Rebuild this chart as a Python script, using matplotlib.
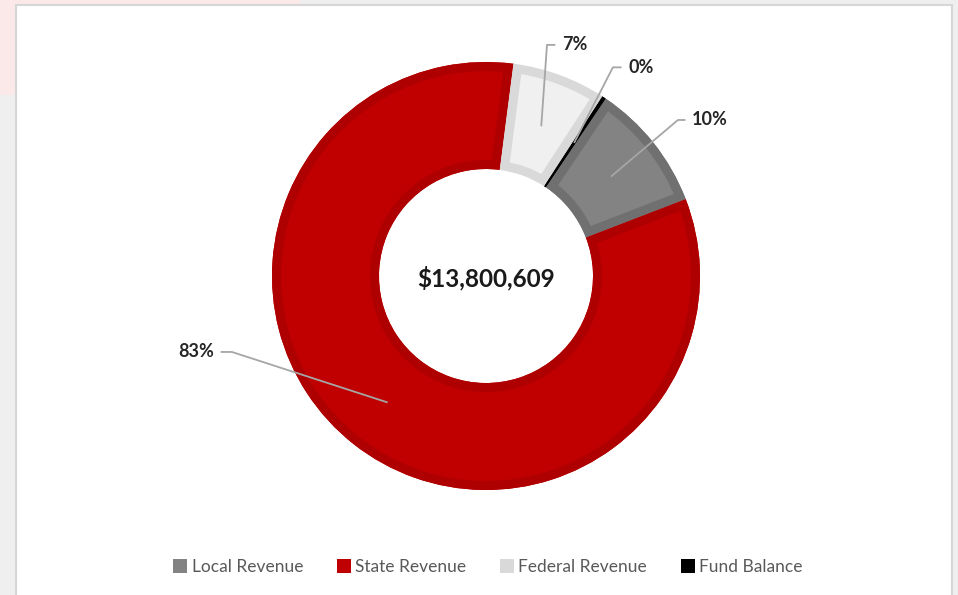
import matplotlib.pyplot as plt
from matplotlib.patches import Patch, Rectangle, Wedge
import numpy as np

sources = ['Local Revenue', 'State Revenue', 'Federal Revenue', 'Fund Balance']
amounts = [1340000, 11440000, 980000, 40609]

fills = ['#838383', '#c00000', '#f0f0f0', '#000000']
edges = ['#707070', '#ae0000', '#d9d9d9', '#000000']

# where each percentage label sits (axes data units) and the elbow of its leader
label_xy = [(0.963, 0.729), (-1.271, -0.355), (0.355, 1.080), (0.664, 0.975)]
elbow_xy = [(0.897, 0.729), (-1.187, -0.355), (0.285, 1.080), (0.593, 0.975)]

W, H = 958, 595
fig = plt.figure(figsize=(W / 100, H / 100), dpi=100, facecolor='#efefef')

# slide backdrop and chart frame
fig.add_artist(Rectangle((0, 1 - 95 / H), 300 / W, 95 / H, transform=fig.transFigure,
                         facecolor='#fbe8e8', edgecolor='none', zorder=-3))
fig.add_artist(Rectangle((16 / W, -0.02), (952 - 16) / W, 1.02 - 5 / H, transform=fig.transFigure,
                         facecolor='white', edgecolor='#d6d6d6', lw=1.5, zorder=-2))

ax = fig.add_axes([272 / W, 105 / H, 428 / W, 428 / H])
wedges, _ = ax.pie(amounts, colors=fills, startangle=56, counterclock=False, radius=1,
                   wedgeprops=dict(width=0.5, linewidth=0))
# inner border band on each slice
for w, ec in zip(wedges, edges):
    band = ax.add_patch(Wedge(w.center, w.r, w.theta1, w.theta2, width=w.width,
                              facecolor='none', edgecolor=ec, lw=13))
    band.set_clip_path(w)

ax.set_xlim(-1, 1)
ax.set_ylim(-1, 1)
ax.axis('off')

total = sum(amounts)
for w, a, (tx, ty), (ex, ey) in zip(wedges, amounts, label_xy, elbow_xy):
    mid = np.deg2rad((w.theta1 + w.theta2) / 2)
    sx, sy = 0.75 * np.cos(mid), 0.75 * np.sin(mid)
    side = 1 if tx > ex else -1
    hx = tx - side * 0.035
    ax.plot([sx, ex, hx], [sy, ey, ey], color='#a6a6a6', lw=1.3, clip_on=False, zorder=3)
    ax.text(tx, ty, f'{a / total * 100:.0f}%', ha='left' if side > 0 else 'right', va='center',
            fontsize=13, fontweight='bold', family=['Lato', 'DejaVu Sans'], color='#262626')

ax.text(0, -0.01, f'${total:,}', ha='center', va='center', fontsize=17.5, fontweight='bold',
        family=['Lato', 'DejaVu Sans'], color='#1a1a1a')

handles = [Patch(facecolor=c, edgecolor='none') for c in fills]
handles[2] = Patch(facecolor='#d9d9d9', edgecolor='none')
fig.legend(handles, sources, loc='center', bbox_to_anchor=(488 / W, 1 - 567 / H), ncol=4,
           frameon=False, handlelength=0.8, handleheight=0.8, handletextpad=0.25,
           columnspacing=1.95, prop={'family': ['Lato', 'DejaVu Sans'], 'size': 12.5},
           labelcolor='#595959')

fig.savefig('out.png', dpi=100, facecolor=fig.get_facecolor())
